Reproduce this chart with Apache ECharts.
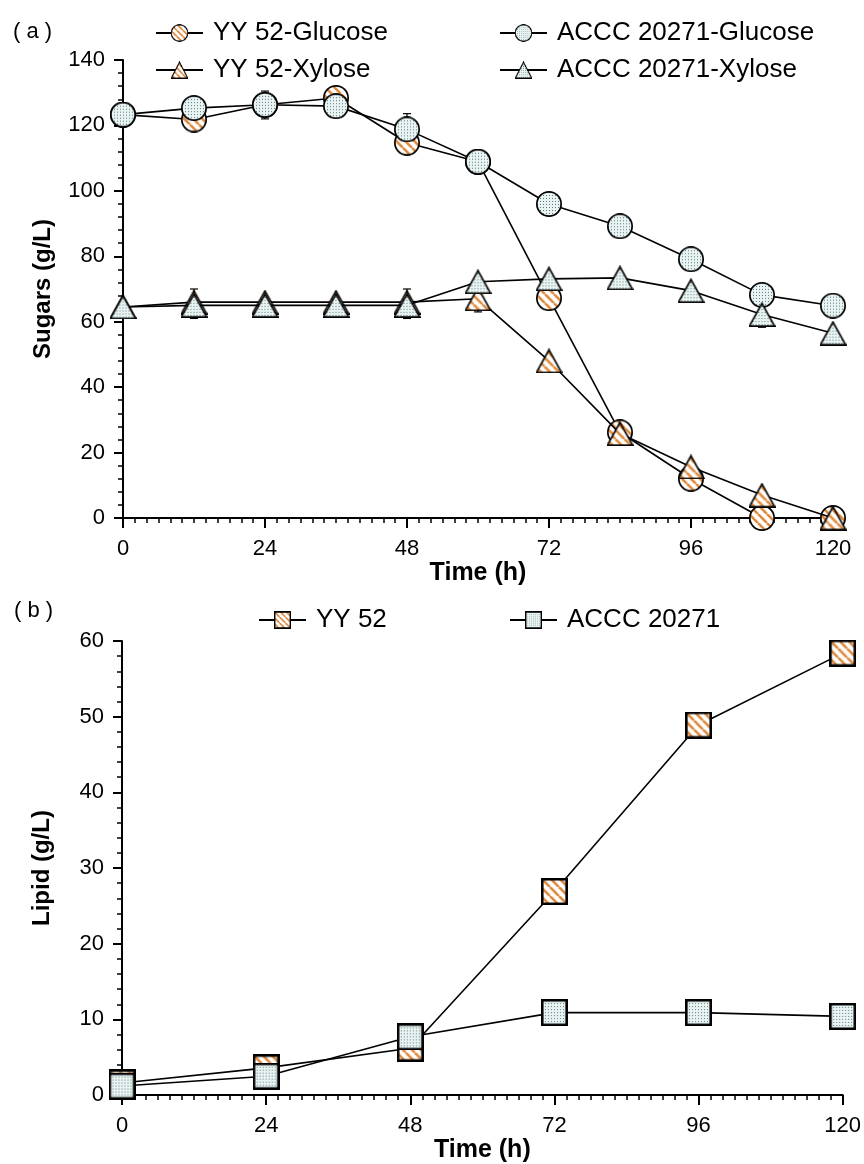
<!DOCTYPE html>
<html>
<head>
<meta charset="utf-8">
<title>Sugars and lipid</title>
<script src="https://cdn.jsdelivr.net/npm/echarts@6/dist/echarts.min.js"></script>
<style>html,body{margin:0;padding:0;background:#fff;}</style>
</head>
<body>
<div id="main" style="width:864px;height:1164px;"></div>
<script>
// (a) sugars, g/L
var hours = [0, 12, 24, 36, 48, 60, 72, 84, 96, 108, 120];
var yyGlucose = [123.3, 121.8, 126.3, 128.4, 114.7, 108.9, 67.2, 26.2, 12.0, 0, 0];
var acccGlucose = [123.3, 125.3, 126.3, 125.9, 118.8, 108.9, 96.0, 89.2, 79.1, 68.2, 64.9];
var yyXylose = [64.5, 66.0, 66.0, 66.0, 66.0, 67.0, 48.0, 25.8, 15.6, 7.0, 0];
var acccXylose = [64.5, 65.0, 65.0, 65.0, 65.0, 72.2, 73.1, 73.4, 69.5, 62.2, 56.5];
// error bars: [hour, low, high]
var sugarErr = [[24, 122, 130.5], [48, 114, 123.6], [72, 64, 70.4],
                [12, 61, 70], [48, 61, 70], [60, 63, 71], [108, 58.3, 66.1]];

// (b) lipid, g/L
var lipidHours = [0, 24, 48, 72, 96, 120];
var yyLipid = [1.6, 3.6, 6.2, 26.9, 48.9, 58.4];
var acccLipid = [1.2, 2.5, 7.7, 10.9, 10.9, 10.4];

var font = 'Liberation Sans, Arial, sans-serif';

function zip(xs, ys) {
    return xs.map(function (x, i) { return [x, ys[i]]; });
}

// fill tiles: orange hatching and dotted pale blue
function stripeTile() {
    var c = document.createElement('canvas');
    c.width = 9; c.height = 9;
    var g = c.getContext('2d');
    g.fillStyle = '#fff';
    g.fillRect(0, 0, 9, 9);
    g.strokeStyle = '#e08a3c';
    g.lineWidth = 2.6;
    [-9, 0, 9].forEach(function (o) {
        g.beginPath(); g.moveTo(o, 0); g.lineTo(o + 9, 9); g.stroke();
    });
    return c;
}

function dotTile() {
    var c = document.createElement('canvas');
    c.width = 3; c.height = 3;
    var g = c.getContext('2d');
    g.fillStyle = '#e8f4f4';
    g.fillRect(0, 0, 3, 3);
    g.fillStyle = '#687878';
    g.fillRect(1, 1, 1, 1);
    return c;
}

var stripes = stripeTile();
var dots = dotTile();

// pre-draw each marker so the hatching stays at 1:1 pixels
function marker(shape, w, h, tile, bw) {
    var c = document.createElement('canvas');
    c.width = w; c.height = h;
    var g = c.getContext('2d');
    var p = bw / 2;
    g.beginPath();
    if (shape === 'circle') {
        g.arc(w / 2, h / 2, w / 2 - p, 0, Math.PI * 2);
    } else if (shape === 'triangle') {
        g.moveTo(w / 2, p + 0.5);
        g.lineTo(w - p, h - p);
        g.lineTo(p, h - p);
        g.closePath();
    } else {
        g.rect(p, p, w - bw, h - bw);
    }
    g.save();
    g.clip();
    g.fillStyle = g.createPattern(tile, 'repeat');
    g.fillRect(0, 0, w, h);
    g.restore();
    g.lineWidth = bw;
    g.lineJoin = 'miter';
    g.strokeStyle = '#000';
    g.stroke();
    return 'image://' + c.toDataURL();
}

function xAxisOpt(idx, gap) {
    return {
        type: 'value', gridIndex: idx, min: 0, max: 120, interval: 24,
        name: 'Time (h)', nameLocation: 'middle', nameGap: gap,
        nameTextStyle: { fontFamily: font, fontSize: 25, fontWeight: 'bold', color: '#000' },
        axisLine: { lineStyle: { color: '#000', width: 2 } },
        axisTick: { length: 10, lineStyle: { color: '#000', width: 2 } },
        minorTick: { show: true, splitNumber: 12, length: 5, lineStyle: { color: '#000', width: 1.5 } },
        splitLine: { show: false },
        axisLabel: { fontFamily: font, fontSize: 22, color: '#000', margin: 20 }
    };
}

function yAxisOpt(idx, max, step, name) {
    return {
        type: 'value', gridIndex: idx, min: 0, max: max, interval: step,
        name: name, nameLocation: 'middle', nameGap: 68,
        nameTextStyle: { fontFamily: font, fontSize: 24, fontWeight: 'bold', color: '#000' },
        axisLine: { show: true, lineStyle: { color: '#000', width: 2 } },
        axisTick: { show: true, length: 9, lineStyle: { color: '#000', width: 2 } },
        minorTick: { show: true, splitNumber: 5, length: 5, lineStyle: { color: '#000', width: 1.5 } },
        splitLine: { show: false },
        axisLabel: { fontFamily: font, fontSize: 22, color: '#000', margin: 18 }
    };
}

function lineSeries(name, grid, data, symbol, size, z) {
    return {
        name: name, type: 'line', xAxisIndex: grid, yAxisIndex: grid,
        data: data, symbol: symbol, symbolSize: size, showAllSymbol: true,
        clip: false, z: z,
        itemStyle: { color: '#000' },
        lineStyle: { color: '#000', width: 1.6 },
        emphasis: { disabled: true }
    };
}

function renderErr(params, api) {
    var x = api.value(0);
    var lo = api.coord([x, api.value(1)]);
    var hi = api.coord([x, api.value(2)]);
    var st = { stroke: '#000', lineWidth: 1.2 };
    return {
        type: 'group',
        children: [
            { type: 'line', shape: { x1: lo[0], y1: lo[1], x2: hi[0], y2: hi[1] }, style: st },
            { type: 'line', shape: { x1: lo[0] - 4, y1: lo[1], x2: lo[0] + 4, y2: lo[1] }, style: st },
            { type: 'line', shape: { x1: hi[0] - 4, y1: hi[1], x2: hi[0] + 4, y2: hi[1] }, style: st }
        ]
    };
}

var circleStripe = marker('circle', 26, 26, stripes, 1.7);
var circleDot = marker('circle', 26, 26, dots, 1.7);
var triStripe = marker('triangle', 27, 25, stripes, 1.7);
var triDot = marker('triangle', 27, 25, dots, 1.7);
var rectStripe = marker('rect', 27, 27, stripes, 2.6);
var rectDot = marker('rect', 27, 27, dots, 2.6);

var legendText = { fontFamily: font, fontSize: 26, color: '#000', padding: [0, 0, 0, 5] };

var chart = echarts.init(document.getElementById('main'), null, { renderer: 'canvas' });

var option = {
    animation: false,
    backgroundColor: '#fff',
    grid: [
        { left: 123, right: 31, top: 60, bottom: 646 },
        { left: 122, right: 19, top: 641, bottom: 61 }
    ],
    xAxis: [xAxisOpt(0, 42), xAxisOpt(1, 38)],
    yAxis: [yAxisOpt(0, 140, 20, 'Sugars (g/L)'), yAxisOpt(1, 60, 10, 'Lipid (g/L)')],
    legend: [
        { left: 150, top: 15, orient: 'vertical', itemGap: 11, itemWidth: 47, itemHeight: 22,
          data: ['YY 52-Glucose', 'YY 52-Xylose'], textStyle: legendText, selectedMode: false },
        { left: 494, top: 15, orient: 'vertical', itemGap: 11, itemWidth: 47, itemHeight: 22,
          data: ['ACCC 20271-Glucose', 'ACCC 20271-Xylose'], textStyle: legendText, selectedMode: false },
        { left: 253, top: 602, itemWidth: 47, itemHeight: 22,
          data: ['YY 52'], textStyle: legendText, selectedMode: false },
        { left: 504, top: 602, itemWidth: 47, itemHeight: 22,
          data: ['ACCC 20271'], textStyle: legendText, selectedMode: false }
    ],
    graphic: [
        { type: 'text', left: 13, top: 21, style: { text: '( a )', fontFamily: font, fontSize: 22, fill: '#000' } },
        { type: 'text', left: 14, top: 600, style: { text: '( b )', fontFamily: font, fontSize: 22, fill: '#000' } }
    ],
    series: [
        {
            type: 'custom', xAxisIndex: 0, yAxisIndex: 0, z: 1,
            renderItem: renderErr, data: sugarErr, clip: false, silent: true
        },
        lineSeries('YY 52-Glucose', 0, zip(hours, yyGlucose), circleStripe, 26, 2),
        lineSeries('ACCC 20271-Glucose', 0, zip(hours, acccGlucose), circleDot, 26, 3),
        lineSeries('YY 52-Xylose', 0, zip(hours, yyXylose), triStripe, [27, 25], 4),
        lineSeries('ACCC 20271-Xylose', 0, zip(hours, acccXylose), triDot, [27, 25], 5),
        lineSeries('YY 52', 1, zip(lipidHours, yyLipid), rectStripe, 27, 2),
        lineSeries('ACCC 20271', 1, zip(lipidHours, acccLipid), rectDot, 27, 3)
    ]
};

chart.setOption(option);
</script>
</body>
</html>
